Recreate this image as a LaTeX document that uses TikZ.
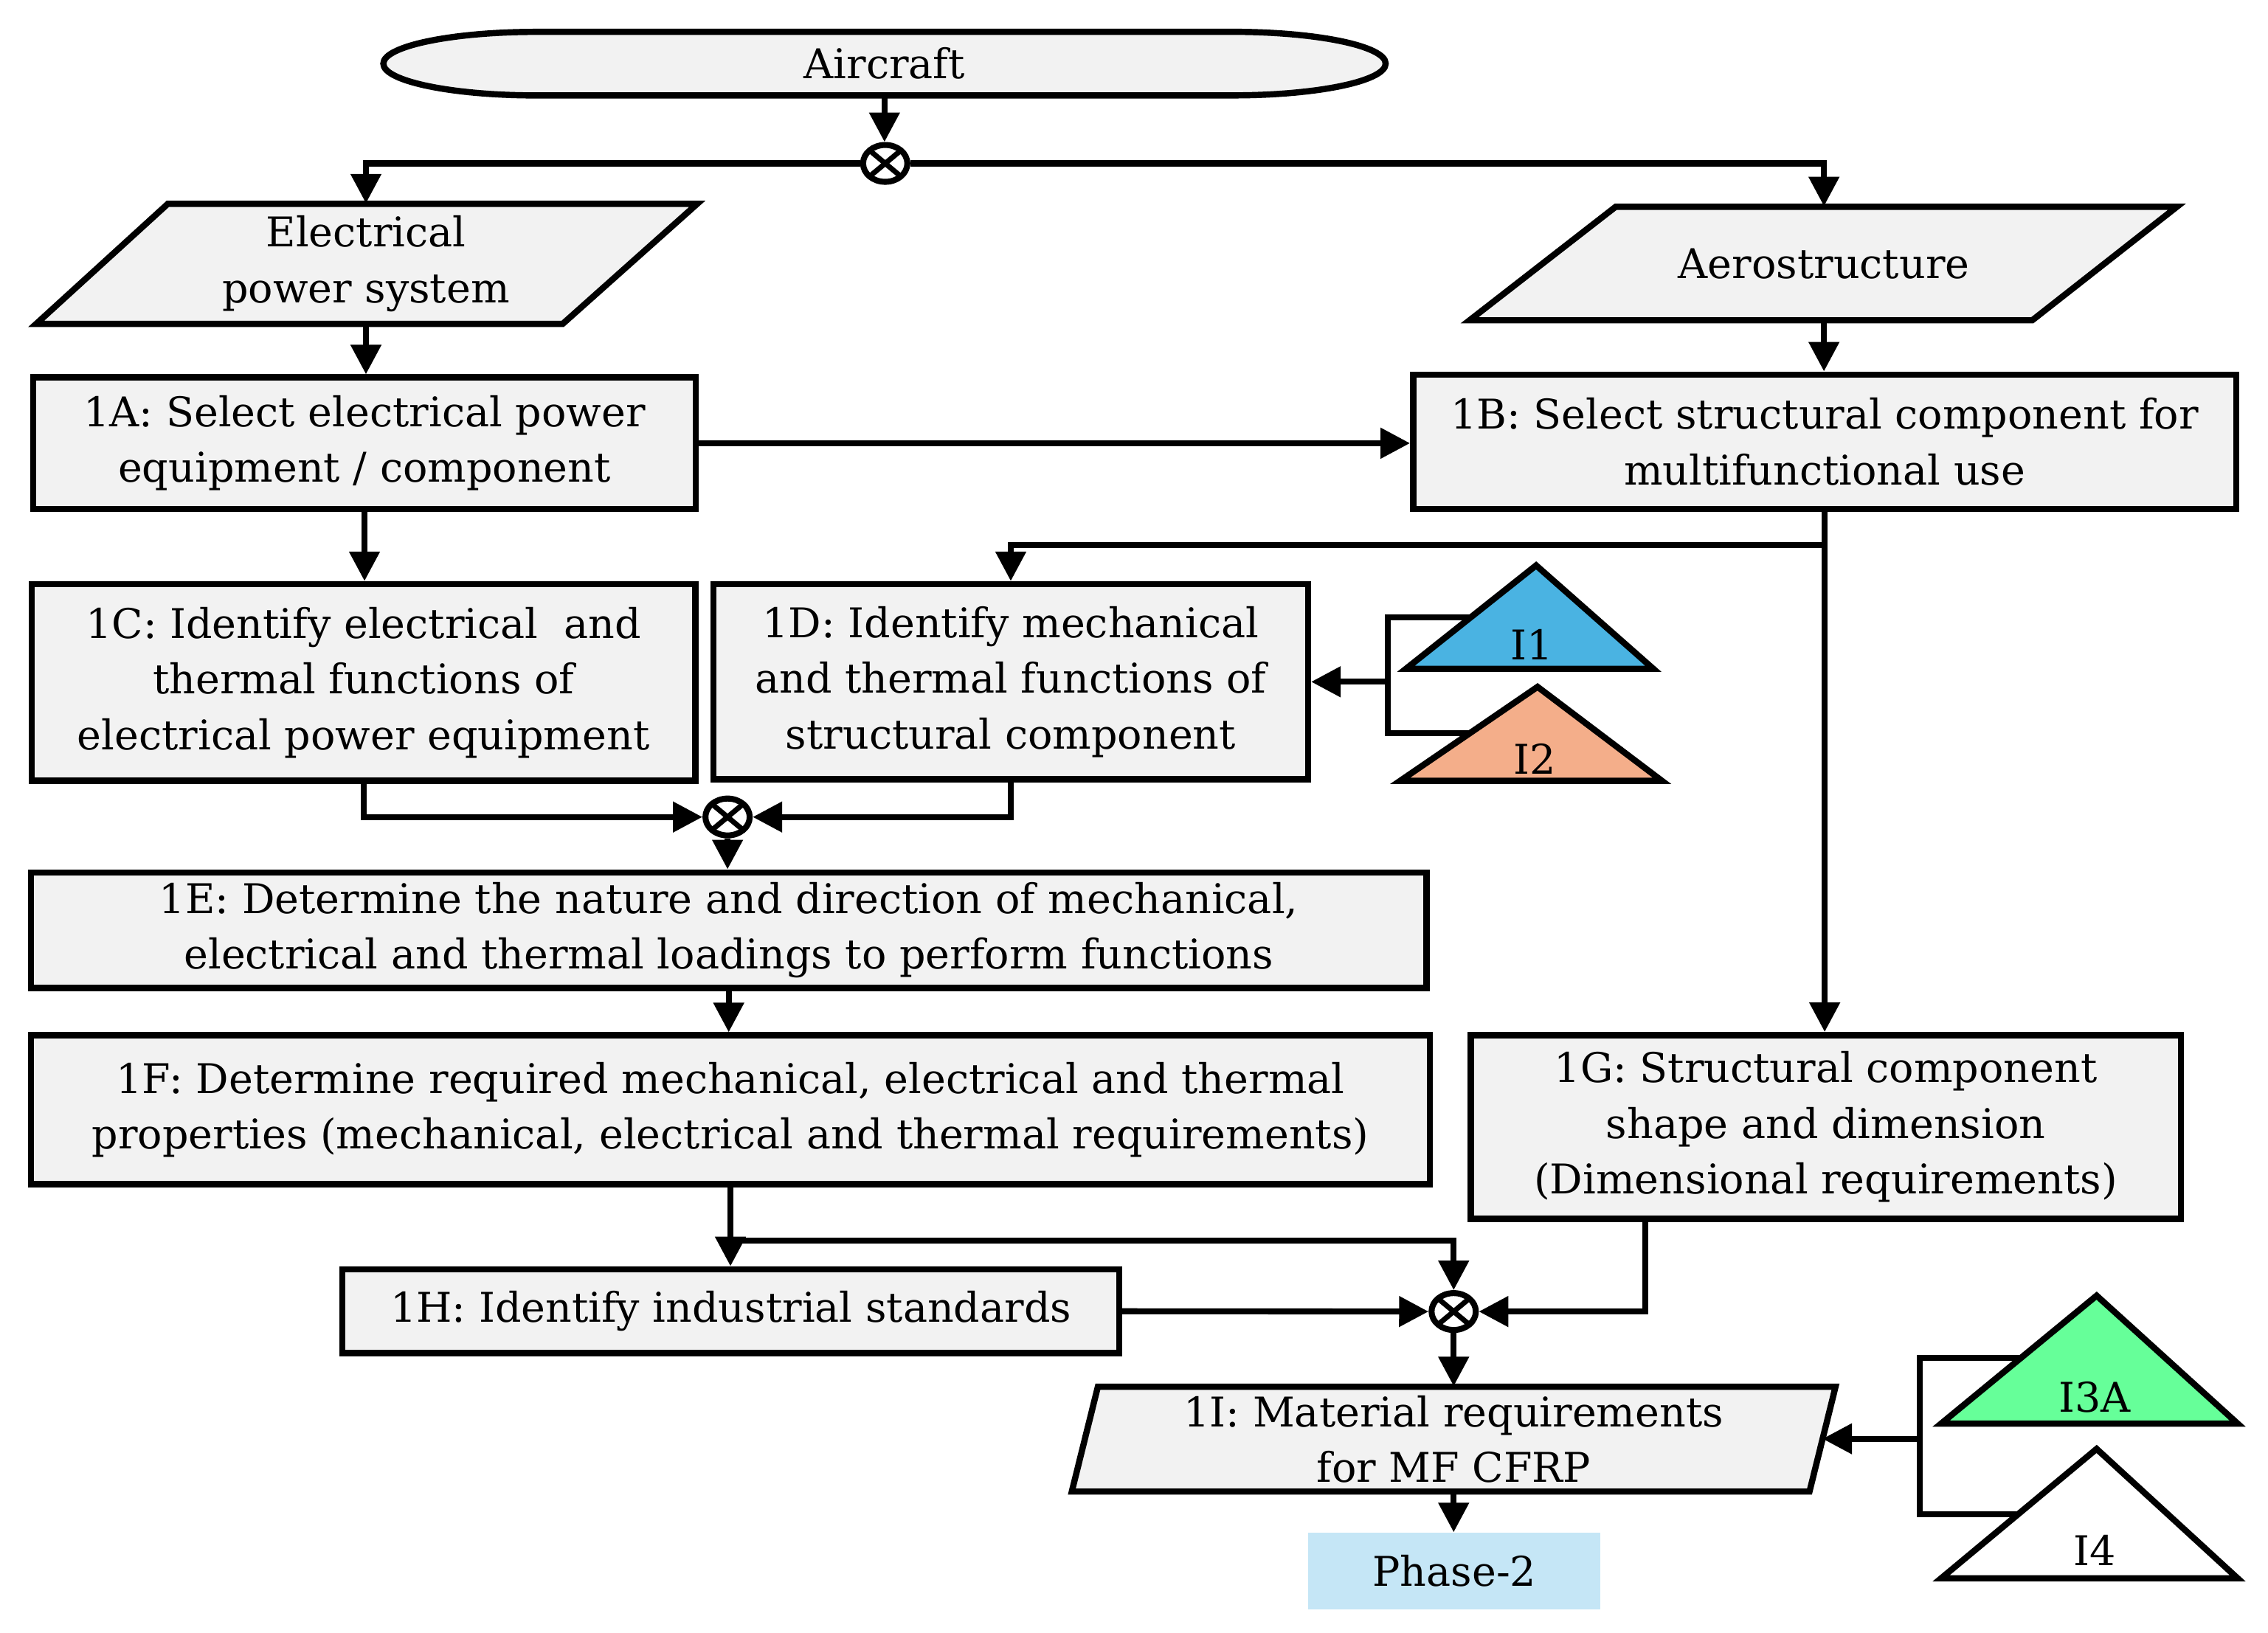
\documentclass[tikz,border=0pt]{standalone}
\usepackage{fontspec}
\setmainfont{DejaVu Serif}
\usetikzlibrary{arrows.meta,shapes.geometric,calc}
\definecolor{boxgray}{HTML}{F2F2F2}
\definecolor{tblue}{HTML}{4AB3E2}
\definecolor{tsalmon}{HTML}{F4AE8A}
\definecolor{tgreen}{HTML}{66FF99}
\definecolor{phaseblue}{HTML}{C5E6F6}
\begin{document}
\begin{tikzpicture}[x=0.019605cm, y=-0.019605cm,
  font=\fontsize{15.8}{21.5}\selectfont,
  stepbox/.style={draw=black, line width=2.4pt, fill=boxgray, align=center, inner sep=0pt},
  shapeline/.style={draw=black, line width=2.4pt, fill=boxgray, line join=miter},
  trishape/.style={draw=black, line width=2.4pt, line join=miter},
  txt/.style={align=center, inner sep=0pt},
  conn/.style={line width=2.3pt},
  arr/.style={conn, -{Triangle[length=0.4cm,width=0.4cm]}},
  junc/.style={ellipse, draw=black, line width=2.3pt, fill=white,
    minimum width=0.6cm, minimum height=0.5cm, inner sep=0pt,
    path picture={\draw[line width=2pt]
      (path picture bounding box.south west) -- (path picture bounding box.north east)
      (path picture bounding box.north west) -- (path picture bounding box.south east);}}
]
\useasboundingbox (0,0) rectangle (1568,1129);

% ---- Aircraft (stadium with elliptic ends)
\path[shapeline] (371,22) -- (852,22)
  arc[start angle=90, end angle=-90, x radius=2.078cm, y radius=0.431cm]
  -- (371,66)
  arc[start angle=270, end angle=90, x radius=2.078cm, y radius=0.431cm] -- cycle;
\node[txt, minimum width=13.5cm, minimum height=0.86cm] (air) at (611.5,44) {Aircraft};

% ---- parallelograms
\path[shapeline] (116,141) -- (482,141) -- (389,224) -- (25,224) -- cycle;
\node[txt, minimum width=9.0cm, minimum height=1.627cm] (elec) at (253,182.5) {Electrical\\power system};

\path[shapeline] (1117,143) -- (1505,143) -- (1405,221.5) -- (1016,221.5) -- cycle;
\node[txt, minimum width=7.6cm, minimum height=1.539cm] (aero) at (1261,182.25) {Aerostructure};

\path[shapeline] (759,959) -- (1269,959) -- (1251,1031.5) -- (741,1031.5) -- cycle;
\node[txt, minimum width=9.8cm, minimum height=1.421cm] (mI) at (1005,995.25) {1I: Material requirements\\for MF CFRP};
\coordinate (Ir) at (1260,995);

% ---- boxes
\node[stepbox, minimum width=458*0.019605cm, minimum height=91*0.019605cm] (A) at (252,306.5)
  {1A: Select electrical power\\equipment / component};
\node[stepbox, minimum width=569*0.019605cm, minimum height=93*0.019605cm] (B) at (1261.5,305.5)
  {1B: Select structural component for\\multifunctional use};
\node[stepbox, minimum width=459*0.019605cm, minimum height=136*0.019605cm] (C) at (251.3,472)
  {1C: Identify electrical\ \ and\\thermal functions of\\electrical power equipment};
\node[stepbox, minimum width=411*0.019605cm, minimum height=135*0.019605cm] (D) at (698.8,471.5)
  {1D: Identify mechanical\\and thermal functions of\\structural component};
\node[stepbox, minimum width=965*0.019605cm, minimum height=80*0.019605cm] (E) at (503.8,643.3)
  {1E: Determine the nature and direction of mechanical,\\electrical and thermal loadings to perform functions};
\node[stepbox, minimum width=967*0.019605cm, minimum height=103*0.019605cm] (F) at (505,767.5)
  {1F: Determine required mechanical, electrical and thermal\\properties (mechanical, electrical and thermal requirements)};
\node[stepbox, minimum width=491*0.019605cm, minimum height=127*0.019605cm] (G) at (1262.3,779.3)
  {1G: Structural component\\shape and dimension\\(Dimensional requirements)};
\node[stepbox, minimum width=537*0.019605cm, minimum height=58*0.019605cm] (H) at (505.3,906.8)
  {1H: Identify industrial standards};
\node[txt, fill=phaseblue, minimum width=202*0.019605cm, minimum height=53*0.019605cm] (P) at (1005.5,1086.5)
  {Phase-2};

% ---- bracket stubs (under triangles)
\coordinate (k1) at (959.5,471.5);
\coordinate (k2) at (1327,995);
\draw[conn] (1025,427) -- (959.5,427) -- (959.5,507) -- (1025,507);
\draw[conn] (1405,939) -- (1327,939) -- (1327,1047) -- (1405,1047);

% ---- triangles
\path[trishape, fill=tblue] (1062,391) -- (1143,462.5) -- (972,462.5) -- cycle;
\node[txt] (t1) at (1059,446) {I1};
\path[trishape, fill=tsalmon] (1063,475) -- (1149,540) -- (968,540) -- cycle;
\node[txt] (t2) at (1061,525) {I2};
\path[trishape, fill=tgreen] (1449.5,896) -- (1547,984.5) -- (1342,984.5) -- cycle;
\node[txt] (t3) at (1448,966) {I3A};
\path[trishape, fill=white] (1449.5,1002) -- (1547,1091.5) -- (1342,1091.5) -- cycle;
\node[txt] (t4) at (1448,1072) {I4};

% ---- junctions
\node[junc] (J1) at (612,113) {};
\node[junc] (J2) at (503,565) {};
\node[junc] (J3) at (1005,907) {};

% ---- connectors
\draw[arr] (air.south) -- (air.south |- J1.north);
\draw[arr] (J1.west) -| (elec.north);
\draw[arr] (J1.east) -| (aero.north);
\draw[arr] (elec.south) -- (elec.south |- A.north);
\draw[arr] (aero.south) -- (aero.south |- B.north);
\draw[arr] (A.east) -- (A.east -| B.west);
\draw[arr] (B.south) -- (B.south |- G.north);
\coordinate (kb) at (1261.5,377);
\draw[arr] (kb) -| (D.north);
\draw[arr] (A.south) -- (A.south |- C.north);
\draw[arr] (C.south) |- (J2.west);
\draw[arr] (D.south) |- (J2.east);
\draw[arr] (J2.south) -- (J2.south |- E.north);
\draw[arr] (E.south) -- (E.south |- F.north);
\draw[arr] (F.south) -- (F.south |- H.north);
\coordinate (kf) at (505,858);
\draw[arr] (kf) -| (J3.north);
\draw[arr] (H.east) -- (J3.west);
\coordinate (kg) at (1137.3,842.8);
\draw[arr] (kg) |- (J3.east);
\draw[arr] (J3.south) -- (J3.south |- mI.north);
\draw[arr] (mI.south) -- (mI.south |- P.north);
\draw[arr] (k1) -- (D.east);
\draw[arr] (k2) -- (Ir);
\end{tikzpicture}
\end{document}
